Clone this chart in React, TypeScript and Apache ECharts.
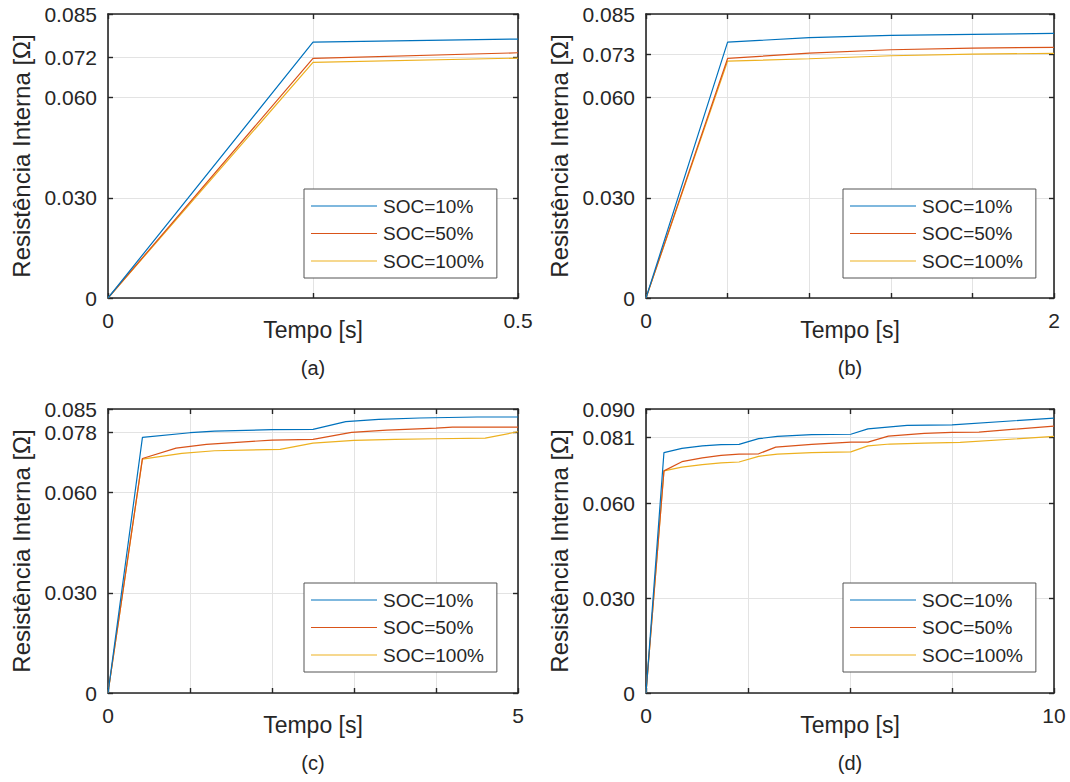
import React, { useEffect, useRef } from "react";
import * as echarts from "echarts";

const SERIES_NAMES = ["SOC=10%", "SOC=50%", "SOC=100%"];
const COLORS = ["#0072BD", "#D95319", "#EDB120"];
const PANEL_LABELS = ["(a)", "(b)", "(c)", "(d)"];
const X_NAME = "Tempo [s]";
const Y_NAME = "Resistência Interna [Ω]";

// Panel (a): 0 - 0.5 s
const tA = [0, 0.25, 0.5];
const a10 = [0, 0.0766, 0.0775];
const a50 = [0, 0.0717, 0.0734];
const a100 = [0, 0.0705, 0.0718];
const yTicksA = [0, 0.03, 0.06, 0.072, 0.085];

// Panel (b): 0 - 2 s
const tB = [0, 0.4, 0.8, 1.2, 1.6, 2.0];
const b10 = [0, 0.0766, 0.0779, 0.0786, 0.0789, 0.0792];
const b50 = [0, 0.0717, 0.0733, 0.0743, 0.0748, 0.075];
const b100 = [0, 0.0709, 0.0716, 0.0725, 0.073, 0.0732];
const yTicksB = [0, 0.03, 0.06, 0.073, 0.085];

// Panel (c): 0 - 5 s
const tC10 = [0, 0.42, 1.0, 1.3, 2.0, 2.5, 2.9, 3.3, 3.8, 4.5, 5.0];
const c10 = [0, 0.0765, 0.0779, 0.0784, 0.0788, 0.0789, 0.0812, 0.0819, 0.0823, 0.0826, 0.0826];
const tC50 = [0, 0.42, 0.83, 1.2, 2.0, 2.5, 2.97, 3.4, 4.0, 4.2, 5.0];
const c50 = [0, 0.0702, 0.0733, 0.0744, 0.0757, 0.0759, 0.078, 0.0787, 0.0793, 0.0796, 0.0796];
const tC100 = [0, 0.42, 0.9, 1.3, 2.1, 2.5, 3.0, 3.5, 4.0, 4.6, 5.0];
const c100 = [0, 0.07, 0.0717, 0.0725, 0.0729, 0.0748, 0.0756, 0.0759, 0.0761, 0.0763, 0.0782];
const yTicksC = [0, 0.03, 0.06, 0.078, 0.085];

// Panel (d): 0 - 10 s
const tD10 = [0, 0.44, 0.88, 1.38, 1.84, 2.28, 2.76, 3.22, 4.06, 5.02, 5.44, 6.4, 7.5, 10];
const d10 = [0, 0.0762, 0.0775, 0.0783, 0.0787, 0.0788, 0.0806, 0.0813, 0.0819, 0.082, 0.0837, 0.0848, 0.085, 0.0871];
const tD50 = [0, 0.44, 0.88, 1.38, 1.84, 2.28, 2.76, 3.18, 4.06, 5.02, 5.44, 5.94, 6.82, 7.5, 8.16, 10];
const d50 = [0, 0.0704, 0.0733, 0.0745, 0.0753, 0.0757, 0.0758, 0.0779, 0.0788, 0.0795, 0.0795, 0.0814, 0.0823, 0.0826, 0.0827, 0.0846];
const tD100 = [0, 0.44, 0.88, 1.38, 1.84, 2.28, 2.76, 3.22, 4.06, 5.02, 5.44, 5.98, 6.82, 7.7, 10];
const d100 = [0, 0.0704, 0.0716, 0.0724, 0.0729, 0.0732, 0.075, 0.0757, 0.0762, 0.0764, 0.0783, 0.0789, 0.0792, 0.0794, 0.0813];
const yTicksD = [0, 0.03, 0.06, 0.081, 0.09];

const xMaxes = [0.5, 2, 5, 10];
const xIntervals = [0.25, 0.4, 1, 2.5];
const yMaxes = [0.085, 0.085, 0.085, 0.09];
const yTickSets = [yTicksA, yTicksB, yTicksC, yTicksD];

const zip = (t: number[], v: number[]) => t.map((x, i) => [x, v[i]]);

const panelSeries = [
  [zip(tA, a10), zip(tA, a50), zip(tA, a100)],
  [zip(tB, b10), zip(tB, b50), zip(tB, b100)],
  [zip(tC10, c10), zip(tC50, c50), zip(tC100, c100)],
  [zip(tD10, d10), zip(tD50, d50), zip(tD100, d100)],
];

const TEXT = "#262626";
const FONT = "'Liberation Sans', Arial, sans-serif";
const LEGEND_LINE = "path://M0,0L0,0M0,9.4L66,9.4L66,10.6L0,10.6ZM66,20L66,20";

const layouts = [
  { left: 108, top: 14, width: 410, height: 284, legL: 304, legT: 189 },
  { left: 646, top: 14, width: 408, height: 284, legL: 843, legT: 189 },
  { left: 108, top: 409, width: 410, height: 284, legL: 304, legT: 583 },
  { left: 646, top: 409, width: 408, height: 284, legL: 843, legT: 583 },
];

function fmtX(v: number) {
  return String(v);
}
function fmtY(v: number) {
  return v === 0 ? "0" : v.toFixed(3);
}

export default function App() {
  const ref = useRef<HTMLDivElement>(null);
  useEffect(() => {
    if (!ref.current) return;
    const chart = echarts.init(ref.current, undefined, { renderer: "svg" });
    const axisLine = { show: true, onZero: false, lineStyle: { color: TEXT, width: 1.6 } };
    const axisTick = { show: true, inside: true, length: 5, lineStyle: { color: TEXT, width: 1.4 } };
    const grid: any[] = [];
    const xAxis: any[] = [];
    const yAxis: any[] = [];
    const series: any[] = [];
    const legend: any[] = [];
    const graphic: any[] = [];
    layouts.forEach((L, i) => {
      grid.push({ left: L.left, top: L.top, width: L.width, height: L.height, show: false });
      xAxis.push({
        type: "value",
        gridIndex: i,
        min: 0,
        max: xMaxes[i],
        interval: xIntervals[i],
        position: "bottom",
        axisLine,
        axisTick,
        axisLabel: {
          customValues: [0, xMaxes[i]],
          formatter: fmtX,
          color: TEXT,
          fontSize: 21,
          fontFamily: FONT,
          margin: 12,
        },
        splitLine: { show: true, lineStyle: { color: "#e3e3e3", width: 1 } },
        name: X_NAME,
        nameLocation: "middle",
        nameGap: 20,
        nameMoveOverlap: false,
        nameTextStyle: { color: TEXT, fontSize: 23, fontFamily: FONT, verticalAlign: "top" },
      });
      xAxis.push({
        type: "value",
        gridIndex: i,
        min: 0,
        max: xMaxes[i],
        interval: xIntervals[i],
        position: "top",
        axisLine,
        axisTick,
        axisLabel: { show: false },
        splitLine: { show: false },
      });
      yAxis.push({
        type: "value",
        gridIndex: i,
        min: 0,
        max: yMaxes[i],
        position: "left",
        axisLine,
        axisTick: { ...axisTick, customValues: yTickSets[i] },
        axisLabel: {
          customValues: yTickSets[i],
          formatter: fmtY,
          color: TEXT,
          fontSize: 21,
          fontFamily: FONT,
          margin: 11,
        },
        splitLine: { show: true, lineStyle: { color: "#e3e3e3", width: 1 } },
        name: Y_NAME,
        nameLocation: "middle",
        nameGap: 75,
        nameMoveOverlap: false,
        nameTextStyle: { color: TEXT, fontSize: 24, fontFamily: FONT },
      });
      yAxis.push({
        type: "value",
        gridIndex: i,
        min: 0,
        max: yMaxes[i],
        position: "right",
        axisLine,
        axisTick: { ...axisTick, customValues: yTickSets[i] },
        axisLabel: { show: false },
        splitLine: { show: false },
      });
      panelSeries[i].forEach((data, k) => {
        series.push({
          type: "line",
          name: SERIES_NAMES[k],
          xAxisIndex: 2 * i,
          yAxisIndex: 2 * i,
          data,
          symbol: "none",
          color: COLORS[k],
          lineStyle: { color: COLORS[k], width: 1.2 },
          z: 5 - k,
        });
      });
      legend.push({
        data: SERIES_NAMES,
        orient: "vertical",
        left: L.legL,
        top: L.legT,
        icon: LEGEND_LINE,
        itemWidth: 66,
        itemHeight: 20,
        itemGap: 7.5,
        padding: [7, 13, 7, 7],
        backgroundColor: "#ffffff",
        borderColor: "#555555",
        borderWidth: 1,
        selectedMode: false,
        textStyle: { color: TEXT, fontSize: 19, fontFamily: FONT, padding: [0, 0, 0, 1] },
      });
      graphic.push({
        type: "text",
        x: L.left + L.width / 2,
        y: L.top + L.height + 70,
        style: {
          text: PANEL_LABELS[i],
          fill: TEXT,
          font: `20px ${FONT}`,
          textAlign: "center",
          textVerticalAlign: "middle",
        },
      });
    });
    chart.setOption({
      animation: false,
      backgroundColor: "#ffffff",
      textStyle: { fontFamily: FONT },
      grid,
      xAxis,
      yAxis,
      series,
      legend,
      graphic,
    });
    return () => chart.dispose();
  }, []);
  return (
    <div
      ref={ref}
      style={{ position: "fixed", left: 0, top: 0, width: 1070, height: 782, background: "#fff" }}
    />
  );
}
